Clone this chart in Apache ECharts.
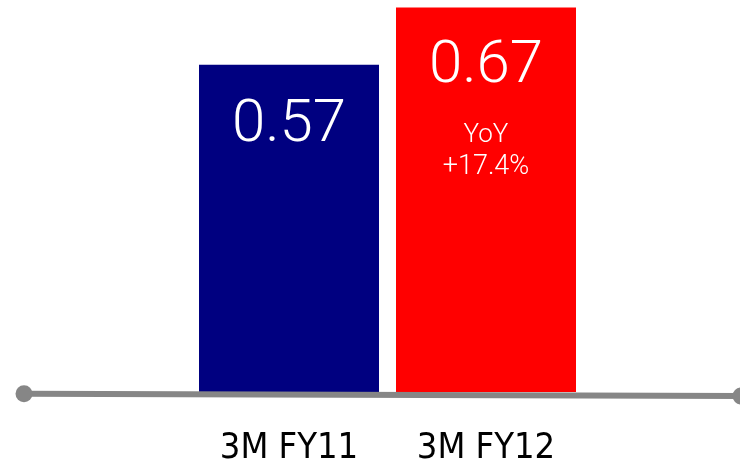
<!DOCTYPE html>
<html>
<head>
<meta charset="utf-8">
<script src="https://cdn.jsdelivr.net/npm/echarts@6/dist/echarts.min.js"></script>
<style>
  html, body { margin: 0; padding: 0; background: #fff; }
  #chart { width: 740px; height: 464px; }
</style>
</head>
<body>
<div id="chart"></div>
<script>
// data
var categories = ['3M FY11', '3M FY12']
var values = [0.57, 0.67]
var barColors = ['#000080', '#ff0000']
var yoyText = ['', '+17.4%']
// baseline under the bars (slightly tilted in the original)
var baselineY = [-0.003, -0.007]

var chart = echarts.init(document.getElementById('chart'))

var barData = values.map(function (v, i) {
  var label = i === 0
    ? { formatter: '{v|' + v.toFixed(2) + '}', distance: 8 }
    : { formatter: '{v|' + v.toFixed(2) + '}\n{y|YoY}\n{p|' + yoyText[i] + '}', distance: 6 }
  return { value: v, itemStyle: { color: barColors[i] }, label: label }
})

var option = {
  animation: false,
  grid: [
    { left: 190.5, right: 155.5, top: 1.7, bottom: 72, outerBoundsMode: 'none' },
    { left: 24, right: -1, top: 1.7, bottom: 60.5, outerBoundsMode: 'none' }
  ],
  xAxis: [
    {
      type: 'category',
      gridIndex: 0,
      data: categories,
      axisLine: { show: false },
      axisTick: { show: false },
      axisLabel: {
        color: '#000',
        fontSize: 36,
        fontFamily: "'Liberation Sans Narrow', 'DejaVu Sans Condensed', sans-serif",
        margin: 39
      }
    },
    { type: 'value', gridIndex: 1, min: 0, max: 1, show: false }
  ],
  yAxis: [
    { type: 'value', gridIndex: 0, min: 0, max: 0.68, show: false },
    { type: 'value', gridIndex: 1, min: -0.02, max: 0.68, show: false }
  ],
  series: [
    {
      type: 'bar',
      xAxisIndex: 0,
      yAxisIndex: 0,
      barWidth: 180,
      data: barData,
      label: {
        show: true,
        position: 'insideTop',
        color: '#fff',
        fontFamily: 'Roboto',
        rich: {
          v: { fontSize: 60, fontWeight: 300, lineHeight: 107, color: '#fff', fontFamily: 'Roboto' },
          y: { fontSize: 26, fontWeight: 300, lineHeight: 31, color: '#fff', fontFamily: 'Roboto' },
          p: { fontSize: 27, fontWeight: 300, lineHeight: 31, color: '#fff', fontFamily: 'Roboto' }
        }
      }
    },
    {
      type: 'line',
      xAxisIndex: 1,
      yAxisIndex: 1,
      clip: false,
      z: 5,
      symbol: 'circle',
      symbolSize: 17,
      lineStyle: { color: '#868686', width: 6 },
      itemStyle: { color: '#868686' },
      data: [[0, baselineY[0]], [1, baselineY[1]]]
    }
  ]
}

chart.setOption(option)
</script>
</body>
</html>
